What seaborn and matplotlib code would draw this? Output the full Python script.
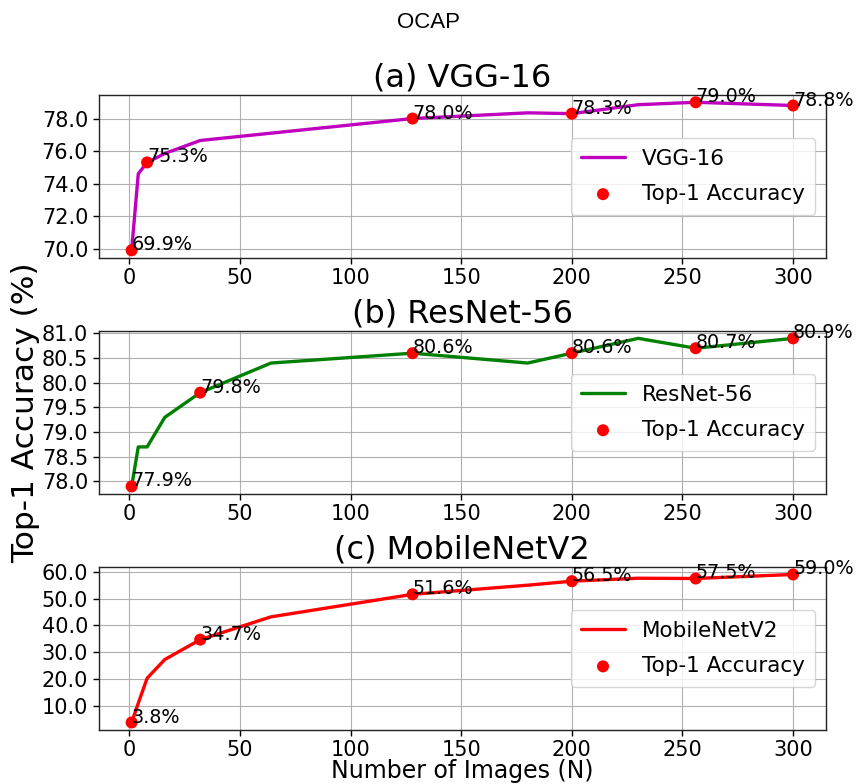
import matplotlib
matplotlib.use("Agg")
import matplotlib.pyplot as plt
from matplotlib.ticker import MultipleLocator, FormatStrFormatter
import seaborn as sns
import pandas as pd

# Number of images used for the sweep
n_images = [1, 4, 8, 16, 32, 64, 128, 180, 200, 230, 256, 300]

# Accuracy curves (%) for each backbone
vgg16_curve = [69.9, 74.6, 75.3, 75.85, 76.65, 77.1, 78.0, 78.35, 78.3, 78.85, 79.0, 78.8]
resnet56_curve = [77.9, 78.7, 78.7, 79.3, 79.8, 80.4, 80.6, 80.4, 80.6, 80.9, 80.7, 80.9]
mobilenetv2_curve = [3.8, 11.0, 20.3, 27.3, 34.7, 43.2, 51.6, 55.0, 56.5, 57.6, 57.5, 59.0]

# Highlighted Top-1 accuracy points
vgg16_pts_n = [1, 8, 128, 200, 256, 300]
vgg16_pts = [69.9, 75.3, 78.0, 78.3, 79.0, 78.8]
resnet56_pts_n = [1, 32, 128, 200, 256, 300]
resnet56_pts = [77.9, 79.8, 80.6, 80.6, 80.7, 80.9]
mobilenetv2_pts_n = [1, 32, 128, 200, 256, 300]
mobilenetv2_pts = [3.8, 34.7, 51.6, 56.5, 57.5, 59.0]

# y tick spacing per panel
y_steps = [2.0, 0.5, 10.0]

panels = [
    ("(a) VGG-16", "VGG-16", "#bf00bf", vgg16_curve, vgg16_pts_n, vgg16_pts),
    ("(b) ResNet-56", "ResNet-56", "green", resnet56_curve, resnet56_pts_n, resnet56_pts),
    ("(c) MobileNetV2", "MobileNetV2", "red", mobilenetv2_curve, mobilenetv2_pts_n, mobilenetv2_pts),
]

sns.set_theme(style="ticks", rc={
    "axes.grid": True,
    "grid.color": "#b0b0b0",
    "grid.linewidth": 0.8,
    "axes.edgecolor": "#222222",
    "axes.linewidth": 1.0,
    "text.color": "black",
    "axes.labelcolor": "black",
    "axes.titlecolor": "black",
    "xtick.color": "black",
    "ytick.color": "black",
})
plt.rcParams["font.family"] = ["DejaVu Sans"]

fig, axes = plt.subplots(3, 1, figsize=(8.57, 7.84), dpi=100)
fig.subplots_adjust(left=0.115, right=0.964, top=0.879, bottom=0.069, hspace=0.45)

for ax, step, (title, name, color, curve, pts_n, pts) in zip(axes, y_steps, panels):
    df_line = pd.DataFrame({"N": n_images, "acc": curve})
    df_pts = pd.DataFrame({"N": pts_n, "acc": pts})
    sns.lineplot(data=df_line, x="N", y="acc", ax=ax, color=color,
                 linewidth=2.4, label=name)
    sns.scatterplot(data=df_pts, x="N", y="acc", ax=ax, color="red",
                    s=75, edgecolor="none", label="Top-1 Accuracy", zorder=3)
    for n, v in zip(pts_n, pts):
        ax.text(n, v, f"{v:.1f}%", fontsize=13.8, color="black", zorder=4)
    ax.set_title(title, fontsize=23)
    ax.set_xticks([0, 50, 100, 150, 200, 250, 300])
    ax.yaxis.set_major_locator(MultipleLocator(step))
    ax.yaxis.set_major_formatter(FormatStrFormatter("%.1f"))
    ax.tick_params(labelsize=15, length=4, width=1)
    ax.set_xlabel("")
    ax.set_ylabel("")
    ax.legend(loc="center right", fontsize=15.5, framealpha=0.8,
              handlelength=2.0, labelspacing=0.7, borderpad=0.5)

axes[1].set_ylabel("Top-1 Accuracy (%)", fontsize=22.5, labelpad=1)
axes[2].set_xlabel("Number of Images (N)", fontsize=17, labelpad=-1)

fig.suptitle("OCAP", fontsize=16, color="black",
             family=["Liberation Sans", "DejaVu Sans"], y=0.985)

fig.savefig("out.png", dpi=100)
